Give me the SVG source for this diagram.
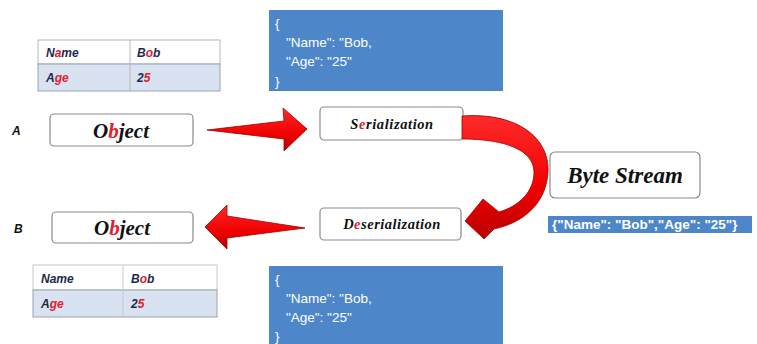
<svg xmlns="http://www.w3.org/2000/svg" width="757" height="344" viewBox="0 0 757 344">
<style>
.lbl{font-family:"Liberation Serif","DejaVu Serif",serif;font-weight:bold;font-style:italic;fill:#111;text-anchor:middle}
.box{fill:#fff;stroke:#8a8a8a;stroke-width:1.2}
.tbl{font-family:"Liberation Sans",Arial,sans-serif;font-weight:bold;font-style:italic;font-size:12px;fill:#1c2a4c}
.json{fill:#4e87c9}
.jt{font-family:"Liberation Sans",Arial,sans-serif;font-size:13.5px;fill:#fff}
.red{fill:#e0202a}
.arrow{fill:url(#rg);stroke:#a00000;stroke-width:0.8}
.side{font-family:"Liberation Sans",Arial,sans-serif;font-weight:bold;font-style:italic;font-size:12px;fill:#111}
</style>
<defs>
<linearGradient id="rg" x1="0" y1="0" x2="0" y2="1">
<stop offset="0" stop-color="#ff2a2a"/>
<stop offset="0.6" stop-color="#f00000"/>
<stop offset="1" stop-color="#b80000"/>
</linearGradient>
</defs>
<rect width="757" height="344" fill="#fff"/>

<g id="table-top">
<rect x="38" y="40" width="182" height="24" fill="#fff" stroke="#b8b8b8"/>
<rect x="38" y="64" width="182" height="27" fill="#d8e2f1" stroke="#9aa3b0"/>
<line x1="130" y1="40" x2="130" y2="91" stroke="#b8b8b8"/>
<text class="tbl" x="46" y="57">N<tspan class="red">a</tspan>me</text>
<text class="tbl" x="137" y="57">B<tspan class="red">o</tspan>b</text>
<text class="tbl" x="46" y="82">A<tspan class="red">ge</tspan></text>
<text class="tbl" x="137" y="82">2<tspan class="red">5</tspan></text>
</g>

<g id="label-a"><text class="side" x="12" y="135">A</text></g>
<g id="object-a">
<rect class="box" x="50" y="114" width="143" height="32" rx="4"/>
<text class="lbl" x="121" y="138" font-size="21">O<tspan class="red">b</tspan>ject</text>
</g>

<g id="json-top">
<rect class="json" x="269" y="10" width="234" height="81"/>
<text class="jt" x="275" y="28">{</text>
<text class="jt" x="286" y="47">"Name": "Bob,</text>
<text class="jt" x="286" y="66">"Age": "25"</text>
<text class="jt" x="275" y="86">}</text>
</g>

<g id="serialization">
<rect class="box" x="320" y="107" width="143" height="33" rx="4"/>
<text class="lbl" x="392" y="129" font-size="14.5" letter-spacing="0.6">S<tspan class="red">e</tspan>rialization</text>
</g>

<g id="byte-stream">
<rect class="box" x="550" y="152" width="150" height="46" rx="5"/>
<text class="lbl" x="625" y="183" font-size="23">Byte Stream</text>
</g>

<g id="byte-json">
<rect class="json" x="548" y="216" width="204" height="17"/>
<text class="jt" x="552" y="229" font-weight="bold" font-size="12.5">{"Name": "Bob","Age": "25"}</text>
</g>

<g id="deserialization">
<rect class="box" x="320" y="208" width="141" height="32" rx="4"/>
<text class="lbl" x="392" y="229" font-size="14.5" letter-spacing="0.5">D<tspan class="red">e</tspan>serialization</text>
</g>

<g id="label-b"><text class="side" x="14" y="233">B</text></g>
<g id="object-b">
<rect class="box" x="52" y="212" width="141" height="31" rx="4"/>
<text class="lbl" x="122" y="235" font-size="21">O<tspan class="red">b</tspan>ject</text>
</g>

<g id="table-bottom">
<rect x="33" y="265" width="184" height="25" fill="#fff" stroke="#c8c8c8"/>
<rect x="33" y="290" width="184" height="27" fill="#d8e2f1" stroke="#9aa3b0"/>
<line x1="123" y1="265" x2="123" y2="317" stroke="#c8c8c8"/>
<text class="tbl" x="41" y="283">Name</text>
<text class="tbl" x="131" y="283">B<tspan class="red">o</tspan>b</text>
<text class="tbl" x="41" y="308">A<tspan class="red">ge</tspan></text>
<text class="tbl" x="131" y="308">2<tspan class="red">5</tspan></text>
</g>

<g id="json-bottom">
<rect class="json" x="269" y="266" width="234" height="78"/>
<text class="jt" x="275" y="284">{</text>
<text class="jt" x="286" y="303">"Name": "Bob,</text>
<text class="jt" x="286" y="322">"Age": "25"</text>
<text class="jt" x="275" y="341">}</text>
</g>

<g id="connectors">
<path class="arrow" d="M207,130 L284,121 L283,108 L307,129 L284,151 L284,139 Z"/>
<path class="arrow" d="M462,116 C517,112 550,138 548,172 C546,205 522,223 494,229 L484,239 L465,221 L483,199 L499,212 C519,206 534,192 534,172 C534,150 505,139 462,139 Z"/>
<path class="arrow" d="M305,228 L227,238 L227,249 L205,227 L227,205 L227,216 Z"/>
</g>
</svg>
